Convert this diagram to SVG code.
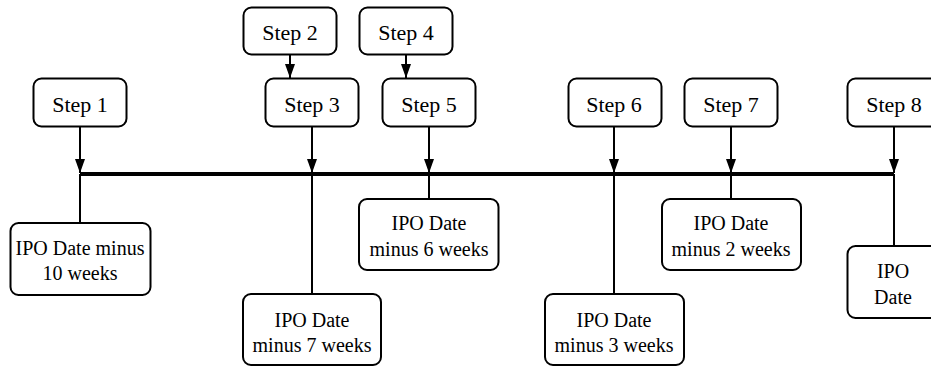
<svg xmlns="http://www.w3.org/2000/svg" width="931" height="367" viewBox="0 0 931 367">
<style>
.box{fill:#fff;stroke:#000;stroke-width:2}
text{font-family:'Liberation Serif','Times New Roman',Times,'DejaVu Serif',serif;font-size:20px;fill:#000;text-anchor:middle}
text.s{font-size:22px}
.c{stroke:#000;stroke-width:2;fill:none}
.tl{stroke:#000;stroke-width:4;fill:none}
</style>
<defs>
<marker id="ah" markerUnits="userSpaceOnUse" markerWidth="14" markerHeight="10" refX="14" refY="5" orient="auto" viewBox="0 0 14 10">
<path d="M0,0 L14,5 L0,10 Z" fill="#000"/>
</marker>
</defs>
<g id="connectors">
<line class="tl" x1="80" y1="174" x2="894" y2="174"/>
<path class="c" d="M80,127 V173" marker-end="url(#ah)"/>
<path class="c" d="M312,127 V173" marker-end="url(#ah)"/>
<path class="c" d="M429,127 V173" marker-end="url(#ah)"/>
<path class="c" d="M614,127 V173" marker-end="url(#ah)"/>
<path class="c" d="M731,127 V173" marker-end="url(#ah)"/>
<path class="c" d="M894,127 V173" marker-end="url(#ah)"/>
<path class="c" d="M290,54 V78" marker-end="url(#ah)"/>
<path class="c" d="M406,54 V78" marker-end="url(#ah)"/>
<line class="c" x1="80" y1="174" x2="80" y2="223"/>
<line class="c" x1="312" y1="174" x2="312" y2="294"/>
<line class="c" x1="429" y1="174" x2="429" y2="199"/>
<line class="c" x1="614" y1="174" x2="614" y2="294"/>
<line class="c" x1="731" y1="174" x2="731" y2="199"/>
<line class="c" x1="894" y1="174" x2="894" y2="246"/>
</g>
<g id="step1"><rect class="box" x="33.5" y="78.5" width="93" height="48" rx="8"/><text class="s" x="80" y="112">Step 1</text></g>
<g id="step2"><rect class="box" x="243.5" y="7.5" width="93" height="47" rx="8"/><text class="s" x="290" y="40">Step 2</text></g>
<g id="step3"><rect class="box" x="265.5" y="78.5" width="93" height="48" rx="8"/><text class="s" x="312" y="112">Step 3</text></g>
<g id="step4"><rect class="box" x="359.5" y="7.5" width="93" height="47" rx="8"/><text class="s" x="406" y="40">Step 4</text></g>
<g id="step5"><rect class="box" x="382.5" y="78.5" width="93" height="48" rx="8"/><text class="s" x="429" y="112">Step 5</text></g>
<g id="step6"><rect class="box" x="568.5" y="78.5" width="93" height="48" rx="8"/><text class="s" x="614" y="112">Step 6</text></g>
<g id="step7"><rect class="box" x="684.5" y="78.5" width="93" height="48" rx="8"/><text class="s" x="731" y="112">Step 7</text></g>
<g id="step8"><rect class="box" x="847.5" y="78.5" width="93" height="48" rx="8"/><text class="s" x="894" y="112">Step 8</text></g>
<g id="d10"><rect class="box" x="10.5" y="223" width="140" height="72" rx="8"/><text x="80" y="255">IPO Date minus</text><text x="80" y="280">10 weeks</text></g>
<g id="d7"><rect class="box" x="243" y="294" width="138" height="71" rx="8"/><text x="312" y="327">IPO Date</text><text x="312" y="352">minus 7 weeks</text></g>
<g id="d6"><rect class="box" x="359" y="199" width="139.5" height="71" rx="8"/><text x="429" y="230">IPO Date</text><text x="429" y="256">minus 6 weeks</text></g>
<g id="d3"><rect class="box" x="545" y="294" width="139" height="71" rx="8"/><text x="614" y="327">IPO Date</text><text x="614" y="352">minus 3 weeks</text></g>
<g id="d2"><rect class="box" x="662" y="199" width="139" height="71" rx="8"/><text x="731" y="230">IPO Date</text><text x="731" y="256">minus 2 weeks</text></g>
<g id="d0"><rect class="box" x="847.5" y="246" width="93" height="72" rx="8"/><text x="893" y="278">IPO</text><text x="893" y="304">Date</text></g>
</svg>
